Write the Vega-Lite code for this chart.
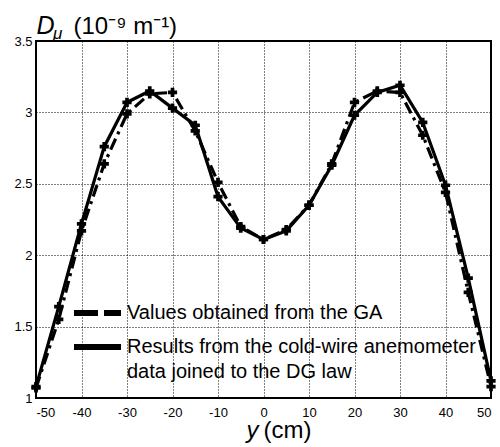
{
  "$schema": "https://vega.github.io/schema/vega-lite/v6.json",
  "width": 455,
  "height": 357,
  "autosize": {"type": "none"},
  "padding": {"left": 36, "top": 41, "right": 9, "bottom": 49},
  "background": "white",
  "config": {
    "font": "Liberation Sans",
    "view": {"stroke": "#000", "strokeWidth": 2},
    "axis": {
      "labelFont": "Liberation Sans",
      "labelFontSize": 13,
      "labelColor": "#000",
      "titleColor": "#000",
      "titleFont": "Liberation Sans",
      "titleFontWeight": "normal"
    }
  },
  "title": {
    "text": "μ",
    "anchor": "start",
    "frame": "group",
    "font": "Liberation Sans",
    "fontSize": 17,
    "fontStyle": "italic",
    "fontWeight": "normal",
    "color": "#000",
    "baseline": "alphabetic",
    "offset": 0,
    "dx": 17,
    "dy": 43
  },
  "data": {
    "values": [
      {"pos": -50, "series": "Results from the cold-wire anemometer data joined to the DG law", "D": 1.08},
      {"pos": -45, "series": "Results from the cold-wire anemometer data joined to the DG law", "D": 1.64},
      {"pos": -40, "series": "Results from the cold-wire anemometer data joined to the DG law", "D": 2.22},
      {"pos": -35, "series": "Results from the cold-wire anemometer data joined to the DG law", "D": 2.76},
      {"pos": -30, "series": "Results from the cold-wire anemometer data joined to the DG law", "D": 3.07},
      {"pos": -25, "series": "Results from the cold-wire anemometer data joined to the DG law", "D": 3.15},
      {"pos": -20, "series": "Results from the cold-wire anemometer data joined to the DG law", "D": 3.03},
      {"pos": -15, "series": "Results from the cold-wire anemometer data joined to the DG law", "D": 2.91},
      {"pos": -10, "series": "Results from the cold-wire anemometer data joined to the DG law", "D": 2.41},
      {"pos": -5, "series": "Results from the cold-wire anemometer data joined to the DG law", "D": 2.19},
      {"pos": 0, "series": "Results from the cold-wire anemometer data joined to the DG law", "D": 2.11},
      {"pos": 5, "series": "Results from the cold-wire anemometer data joined to the DG law", "D": 2.17},
      {"pos": 10, "series": "Results from the cold-wire anemometer data joined to the DG law", "D": 2.35},
      {"pos": 15, "series": "Results from the cold-wire anemometer data joined to the DG law", "D": 2.63},
      {"pos": 20, "series": "Results from the cold-wire anemometer data joined to the DG law", "D": 2.98},
      {"pos": 25, "series": "Results from the cold-wire anemometer data joined to the DG law", "D": 3.14},
      {"pos": 30, "series": "Results from the cold-wire anemometer data joined to the DG law", "D": 3.19},
      {"pos": 35, "series": "Results from the cold-wire anemometer data joined to the DG law", "D": 2.93},
      {"pos": 40, "series": "Results from the cold-wire anemometer data joined to the DG law", "D": 2.49},
      {"pos": 45, "series": "Results from the cold-wire anemometer data joined to the DG law", "D": 1.84},
      {"pos": 50, "series": "Results from the cold-wire anemometer data joined to the DG law", "D": 1.12},
      {"pos": -50, "series": "Values obtained from the GA", "D": 1.07},
      {"pos": -45, "series": "Values obtained from the GA", "D": 1.55},
      {"pos": -40, "series": "Values obtained from the GA", "D": 2.17},
      {"pos": -35, "series": "Values obtained from the GA", "D": 2.64},
      {"pos": -30, "series": "Values obtained from the GA", "D": 2.99},
      {"pos": -25, "series": "Values obtained from the GA", "D": 3.13},
      {"pos": -20, "series": "Values obtained from the GA", "D": 3.14},
      {"pos": -15, "series": "Values obtained from the GA", "D": 2.87},
      {"pos": -10, "series": "Values obtained from the GA", "D": 2.51},
      {"pos": -5, "series": "Values obtained from the GA", "D": 2.2},
      {"pos": 0, "series": "Values obtained from the GA", "D": 2.11},
      {"pos": 5, "series": "Values obtained from the GA", "D": 2.18},
      {"pos": 10, "series": "Values obtained from the GA", "D": 2.35},
      {"pos": 15, "series": "Values obtained from the GA", "D": 2.64},
      {"pos": 20, "series": "Values obtained from the GA", "D": 3.07},
      {"pos": 25, "series": "Values obtained from the GA", "D": 3.15},
      {"pos": 30, "series": "Values obtained from the GA", "D": 3.14},
      {"pos": 35, "series": "Values obtained from the GA", "D": 2.84},
      {"pos": 40, "series": "Values obtained from the GA", "D": 2.44},
      {"pos": 45, "series": "Values obtained from the GA", "D": 1.74},
      {"pos": 50, "series": "Values obtained from the GA", "D": 1.08}
    ]
  },
  "layer": [
    {
      "mark": {"type": "line", "color": "#000", "strokeWidth": 3.2, "strokeCap": "butt"},
      "encoding": {
        "x": {
          "field": "pos",
          "type": "quantitative",
          "scale": {"domain": [-50, 50], "nice": false},
          "axis": {
            "orient": "bottom",
            "values": [-50, -40, -30, -20, -10, 0, 10, 20, 30, 40, 50],
            "labelExpr": "datum.value",
            "ticks": false,
            "domain": false,
            "labelPadding": 8,
            "grid": true,
            "gridColor": "#000",
            "gridDash": [1, 2],
            "gridWidth": 1,
            "gridOpacity": 1,
            "title": "(cm)",
            "titleFontSize": 24,
            "titleAlign": "left",
            "titleBaseline": "alphabetic",
            "titleX": 227,
            "titleY": 39
          }
        },
        "y": {
          "field": "D",
          "type": "quantitative",
          "scale": {"domain": [1, 3.5], "nice": false, "zero": false},
          "axis": {
            "orient": "left",
            "values": [1, 1.5, 2, 2.5, 3, 3.5],
            "labelExpr": "datum.value",
            "ticks": false,
            "domain": false,
            "labelPadding": 4,
            "grid": true,
            "gridColor": "#000",
            "gridDash": [1, 2],
            "gridWidth": 1,
            "gridOpacity": 1,
            "title": "D",
            "titleFontSize": 25,
            "titleFontStyle": "italic",
            "titleAngle": 0,
            "titleAlign": "left",
            "titleBaseline": "alphabetic",
            "titleX": 0,
            "titleY": -8
          }
        },
        "strokeDash": {
          "field": "series",
          "type": "nominal",
          "scale": {
            "domain": ["Values obtained from the GA", "Results from the cold-wire anemometer data joined to the DG law"],
            "range": [[12, 5, 3, 5], [100, 0]]
          },
          "legend": null
        }
      }
    },
    {
      "transform": [{"filter": "datum.pos > 1000"}],
      "mark": {"type": "line", "color": "#000", "strokeWidth": 6, "strokeCap": "butt"},
      "encoding": {
        "x": {"field": "pos", "type": "quantitative", "scale": {"domain": [-50, 50], "nice": false}, "axis": null},
        "y": {"field": "D", "type": "quantitative", "scale": {"domain": [1, 3.5], "nice": false, "zero": false}, "axis": null},
        "strokeDash": {
          "field": "series",
          "type": "nominal",
          "scale": {
            "domain": ["Values obtained from the GA", "Results from the cold-wire anemometer data joined to the DG law"],
            "range": [[24, 6], [100, 0]]
          },
          "legend": {
            "orient": "none",
            "legendX": 35,
            "legendY": 255,
            "title": null,
            "padding": 0,
            "symbolType": "stroke",
            "symbolSize": 2209,
            "symbolStrokeWidth": 6,
            "symbolStrokeColor": "#000",
            "labelFont": "Liberation Sans",
            "labelFontSize": 20,
            "labelColor": "#000",
            "labelLimit": 500,
            "labelOffset": 3,
            "rowPadding": 0,
            "clipHeight": 34,
            "labelExpr": "datum.label == 'Results from the cold-wire anemometer data joined to the DG law' ? ['Results from the cold-wire anemometer', 'data joined to the DG law'] : datum.label",
            "encode": {
              "labels": {
                "update": {"lineHeight": {"value": 25}}
              }
            }
          }
        }
      }
    },
    {
      "mark": {"type": "point", "shape": "cross", "filled": true, "size": 85, "color": "#000", "opacity": 1},
      "encoding": {
        "x": {
          "field": "pos",
          "type": "quantitative",
          "scale": {"domain": [-50, 50], "nice": false},
          "axis": {
            "orient": "top",
            "labels": false,
            "ticks": false,
            "domain": false,
            "grid": false,
            "title": "y",
            "titleFontSize": 24,
            "titleFontStyle": "italic",
            "titleAlign": "left",
            "titleBaseline": "alphabetic",
            "titleX": 210,
            "titleY": 396
          }
        },
        "y": {
          "field": "D",
          "type": "quantitative",
          "scale": {"domain": [1, 3.5], "nice": false, "zero": false},
          "axis": {
            "orient": "right",
            "labels": false,
            "ticks": false,
            "domain": false,
            "grid": false,
            "title": "(10⁻⁹ m⁻¹)",
            "titleFontSize": 24,
            "titleAngle": 0,
            "titleAlign": "left",
            "titleBaseline": "alphabetic",
            "titleX": -418,
            "titleY": -8
          }
        },
        "detail": {"field": "series", "type": "nominal"}
      }
    }
  ],
  "resolve": {"axis": {"x": "independent", "y": "independent"}, "scale": {"strokeDash": "independent"}}
}
